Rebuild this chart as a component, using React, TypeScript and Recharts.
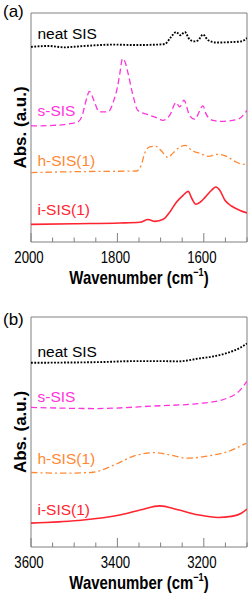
import React from 'react';
import { LineChart, Line, XAxis, YAxis, ReferenceArea, ReferenceDot } from 'recharts';

const FONT = '"Liberation Sans", Arial, Helvetica, sans-serif';

// ---------- Panel (a): 2000–1500 cm-1 ----------
const aNeatWn = [2000, 1960, 1923, 1892, 1850, 1807, 1760, 1706, 1690, 1676, 1664, 1654, 1644, 1633, 1621, 1613, 1602, 1590, 1571, 1536, 1513, 1500];
const aNeatAbs = [85.2, 85.6, 85.0, 85.4, 85.9, 86.2, 86.0, 86.2, 86.5, 89.5, 91.7, 90.3, 91.7, 88.5, 87.6, 88.1, 90.6, 88.1, 87.1, 87.3, 87.6, 89.1];

const aSWn = [2000, 1950, 1923, 1892, 1882, 1877, 1870, 1865, 1858, 1853, 1842, 1822, 1807, 1800, 1795, 1788, 1782, 1776, 1764, 1753, 1730, 1706, 1695, 1679, 1664, 1656, 1646, 1633, 1621, 1602, 1594, 1579, 1560, 1521, 1500];
const aSAbs = [50.7, 50.9, 51.3, 52.4, 54.9, 58.4, 63.5, 65.8, 63.5, 61.1, 56.8, 56.8, 62.6, 67.5, 72.8, 80.1, 78.5, 74.2, 64.1, 57.5, 55.6, 54.0, 53.1, 55.3, 60.9, 59.0, 61.9, 55.3, 53.6, 59.4, 55.6, 53.1, 52.7, 53.6, 57.5];

const aHWn = [2000, 1900, 1800, 1756, 1745, 1737, 1725, 1711, 1698, 1683, 1672, 1656, 1642, 1628, 1609, 1590, 1567, 1547, 1528, 1509, 1500];
const aHAbs = [30.3, 30.7, 30.9, 31.0, 33.5, 38.7, 41.5, 41.8, 39.7, 36.9, 38.7, 41.4, 42.2, 40.0, 38.7, 37.4, 38.3, 37.4, 35.2, 33.9, 34.3];

const aIWn = [2000, 1900, 1795, 1748, 1729, 1713, 1694, 1679, 1663, 1648, 1636, 1628, 1618, 1609, 1597, 1582, 1572, 1563, 1551, 1535, 1516, 1500];
const aIAbs = [7.7, 8.0, 8.3, 8.6, 9.8, 9.0, 9.9, 13.0, 17.5, 20.4, 22.1, 19.1, 16.5, 17.3, 19.5, 22.6, 24.0, 22.6, 18.2, 15.6, 13.8, 12.7];

const aTicks = [2000, 1950, 1900, 1850, 1800, 1750, 1700, 1650, 1600, 1550, 1500];

// ---------- Panel (b): 3600–3100 cm-1 ----------
const bNeatWn = [3600, 3440, 3365, 3287, 3260, 3210, 3183, 3147, 3116, 3100];
const bNeatAbs = [80.1, 80.4, 80.8, 80.8, 80.7, 82.0, 82.7, 84.3, 86.6, 88.5];

const bSWn = [3600, 3450, 3315, 3210, 3146, 3116, 3100];
const bSAbs = [60.7, 60.2, 61.3, 62.4, 64.7, 68.2, 72.1];

const bHWn = [3600, 3531, 3461, 3407, 3361, 3314, 3283, 3237, 3190, 3144, 3102];
const bHAbs = [32.4, 32.1, 32.4, 35.7, 39.6, 41.0, 40.2, 38.6, 39.6, 41.5, 45.1];

const bIWn = [3600, 3492, 3392, 3345, 3302, 3260, 3214, 3167, 3136, 3113, 3100];
const bIAbs = [10.4, 11.5, 14.0, 16.2, 17.9, 16.2, 14.0, 12.8, 13.3, 14.7, 16.5];

const bTicks = [3600, 3550, 3500, 3450, 3400, 3350, 3300, 3250, 3200, 3150, 3100];

const seriesNames = ['neat SIS', 's-SIS', 'h-SIS(1)', 'i-SIS(1)'];
const colors = ['#000000', '#ff33dd', '#ff8833', '#ff2430'];
const aLabelY = [88.5, 54.9, 33.3, 11.7];
const bLabelY = [82.4, 63.1, 36.1, 14.0];

const zip = (wn: number[], v: number[]) => wn.map((x, i) => ({ x, y: v[i] }));

const FRAME = '#808080';

const AxisTick = (props: any) => {
  const { x, y, payload } = props;
  const v = payload.value;
  const major = v % 200 === 0;
  return (
    <g>
      <line x1={x} x2={x} y1={y} y2={y - (major ? 9 : 4.5)} stroke={FRAME} strokeWidth={1} />
      {major && (
        <text
          transform={`translate(${x - 2},${y + 20.8}) scale(0.8,1)`}
          textAnchor="middle"
          fontFamily={FONT}
          fontSize={16.5}
          fill="#000"
        >
          {v}
        </text>
      )}
    </g>
  );
};

const XTitle = (props: any) => {
  const vb = props.viewBox || {};
  const cx = vb.x + vb.width / 2;
  return (
    <text
      transform={`translate(${cx},${vb.y + 41.5}) scale(0.83,1)`}
      textAnchor="middle"
      fontFamily={FONT}
      fontWeight="bold"
      fontSize={18}
      fill="#000"
    >
      Wavenumber (cm
      <tspan fontSize={11} dy={-7.5}>−1</tspan>
      <tspan dy={7.5}>)</tspan>
    </text>
  );
};

const YTitle = (props: any) => {
  const vb = props.viewBox || {};
  const cy = vb.y + vb.height / 2;
  return (
    <text
      transform={`translate(26,${cy}) rotate(-90)`}
      textAnchor="middle"
      fontFamily={FONT}
      fontWeight="bold"
      fontSize={17}
      fill="#000"
    >
      Abs. (a.u.)
    </text>
  );
};

const makeLabel = (text: string, color: string) => (props: any) => {
  const vb = props.viewBox || {};
  return (
    <text x={vb.x} y={vb.y} fontFamily={FONT} fontSize={15.5} fill={color}>
      {text}
    </text>
  );
};

const styles = [
  { strokeWidth: 1.9, strokeDasharray: '1.8 1.5' },
  { strokeWidth: 1.3, strokeDasharray: '6 3.5' },
  { strokeWidth: 1.3, strokeDasharray: '6.5 3 2 3' },
  { strokeWidth: 1.6, strokeDasharray: undefined },
];

type PanelProps = {
  height: number;
  top: number;
  axisHeight: number;
  lo: number;
  hi: number;
  ticks: number[];
  series: { x: number; y: number }[][];
  labelY: number[];
};

const Panel = ({ height, top, axisHeight, lo, hi, ticks, series, labelY }: PanelProps) => (
  <LineChart width={252} height={height} margin={{ top, right: 5, left: 0, bottom: 0 }}>
    <XAxis
      dataKey="x"
      type="number"
      domain={[lo, hi]}
      reversed
      allowDataOverflow
      ticks={ticks}
      interval={0}
      tickSize={0}
      tickMargin={0}
      tickLine={false}
      axisLine={false}
      tick={<AxisTick />}
      height={axisHeight}
      label={{ content: XTitle }}
    />
    <YAxis
      type="number"
      domain={[0, 100]}
      allowDataOverflow
      width={31}
      tick={false}
      tickLine={false}
      axisLine={false}
      label={{ content: YTitle }}
    />
    {series.map((d, i) => (
      <Line
        key={seriesNames[i]}
        data={d}
        dataKey="y"
        type="monotone"
        stroke={colors[i]}
        strokeWidth={styles[i].strokeWidth}
        strokeDasharray={styles[i].strokeDasharray}
        dot={false}
        activeDot={false}
        isAnimationActive={false}
      />
    ))}
    <ReferenceArea x1={lo} x2={hi} y1={0} y2={100} fill="none" stroke={FRAME} strokeWidth={1} ifOverflow="visible" />
    {seriesNames.map((name, i) => (
      <ReferenceDot
        key={'lbl' + name}
        x={hi - 15}
        y={labelY[i]}
        r={0}
        fill="none"
        stroke="none"
        label={{ content: makeLabel(name, colors[i]) }}
      />
    ))}
  </LineChart>
);

export default function App() {
  const aSeries = [zip(aNeatWn, aNeatAbs), zip(aSWn, aSAbs), zip(aHWn, aHAbs), zip(aIWn, aIAbs)];
  const bSeries = [zip(bNeatWn, bNeatAbs), zip(bSWn, bSAbs), zip(bHWn, bHAbs), zip(bIWn, bIAbs)];
  return (
    <div style={{ position: 'absolute', left: 0, top: 0, width: 252, height: 601, background: '#fff' }}>
      <div style={{ position: 'absolute', left: 0, top: 0 }}>
        <Panel height={300} top={13} axisHeight={58} lo={1500} hi={2000} ticks={aTicks} series={aSeries} labelY={aLabelY} />
      </div>
      <div style={{ position: 'absolute', left: 0, top: 300 }}>
        <Panel height={301} top={17} axisHeight={54} lo={3100} hi={3600} ticks={bTicks} series={bSeries} labelY={bLabelY} />
      </div>
      <svg width={252} height={601} style={{ position: 'absolute', left: 0, top: 0, pointerEvents: 'none' }}>
        <text x={3} y={17} fontFamily={FONT} fontSize={17} fill="#000">(a)</text>
        <text x={3} y={325} fontFamily={FONT} fontSize={17} fill="#000">(b)</text>
      </svg>
    </div>
  );
}
